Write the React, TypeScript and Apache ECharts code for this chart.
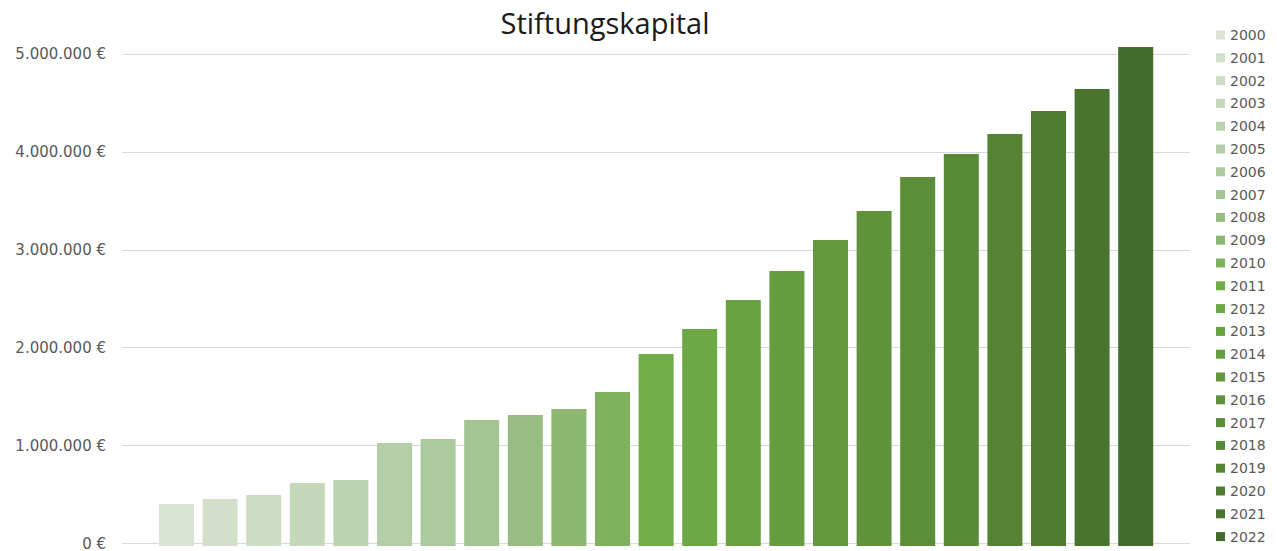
import React, { useEffect, useRef } from "react";
import * as echarts from "echarts";

const years = ["2000","2001","2002","2003","2004","2005","2006","2007","2008","2009","2010","2011","2012","2013","2014","2015","2016","2017","2018","2019","2020","2021","2022"];
const capital = [427000, 478000, 518000, 640000, 671000, 1047000, 1087000, 1280000, 1331000, 1392000, 1565000, 1951000, 2205000, 2500000, 2795000, 3110000, 3404000, 3750000, 3984000, 4187000, 4421000, 4644000, 5071000];
const colors = ["#DAE3D5","#D3DFCB","#CCDDC4","#C5D8BC","#BCD3B2","#B4CEA8","#ACC99D","#A3C594","#97BD82","#8CB872","#7FB25E","#70AD47","#6CA843","#6AA241","#669D3F","#63983D","#5F923B","#5C8D39","#598A37","#548334","#4F7C31","#49742E","#426C2B"];
const yTicks = [0, 1000000, 2000000, 3000000, 4000000, 5000000];

const fmt = (v: number) => (v === 0 ? "0 €" : v.toLocaleString("de-DE").replace(/,/g, ".") + " €");

export default function App() {
  const ref = useRef<HTMLDivElement>(null);
  useEffect(() => {
    const chart = echarts.init(ref.current!, null, { renderer: "svg" });
    const yMax = yTicks[yTicks.length - 1];
    const interval = yTicks[1] - yTicks[0];
    chart.setOption({
      animation: false,
      title: {
        text: "Stiftungskapital",
        left: 600,
        textAlign: "center",
        top: 3,
        textStyle: { fontFamily: "Open Sans", fontSize: 29, fontWeight: "normal", color: "#1a1a1a" },
      },
      legend: {
        orient: "vertical",
        left: 1211,
        top: 23,
        height: 530,
        padding: 5,
        itemWidth: 9,
        itemHeight: 9,
        itemGap: 8.8,
        icon: "rect",
        textStyle: { fontFamily: "DejaVu Sans", fontSize: 14, lineHeight: 14, color: "#595959" },
        data: years,
      },
      grid: [
        { left: 122, right: 87, top: 54, bottom: 5 },
        { left: 154.7, right: 119.5, top: 54, bottom: 5 },
      ],
      xAxis: [
        { type: "category", gridIndex: 0, data: [""], show: true, axisLine: { lineStyle: { color: "#D9D9D9" } }, axisTick: { show: false }, axisLabel: { show: false } },
        { type: "category", gridIndex: 1, data: years, show: false },
      ],
      yAxis: [
        {
          type: "value", gridIndex: 0, min: 0, max: yMax, interval,
          axisLine: { show: false }, axisTick: { show: false },
          splitLine: { lineStyle: { color: "#D9D9D9", width: 1 } },
          axisLabel: { formatter: fmt, margin: 16, fontFamily: "DejaVu Sans", fontSize: 15, color: "#595959" },
        },
        { type: "value", gridIndex: 1, min: 0, max: yMax, show: false },
      ],
      series: years.map((y, i) => ({
        name: y,
        type: "bar",
        xAxisIndex: 1,
        yAxisIndex: 1,
        stack: "all",
        clip: false,
        barWidth: 35,
        itemStyle: { color: colors[i] },
        data: years.map((_, j) => (j === i ? capital[i] : "-")),
      })),
    });
    return () => chart.dispose();
  }, []);
  return <div ref={ref} style={{ width: 1277, height: 551, position: "absolute", left: 0, top: 0 }} />;
}
